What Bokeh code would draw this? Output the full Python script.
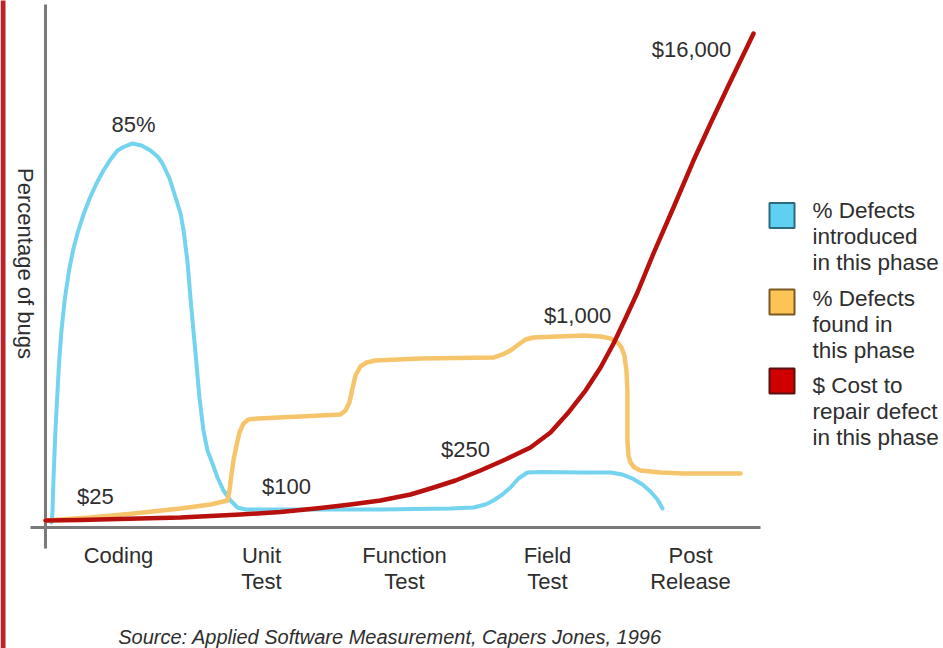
import math
from bokeh.plotting import figure
from bokeh.models import Range1d, Label
from bokeh.core.properties import value
from bokeh.embed import file_html
from bokeh.resources import INLINE

# ---------------- data (x: phase index, y: percentage of bugs) ----------------
phases = ["Coding", "Unit\nTest", "Function\nTest", "Field\nTest", "Post\nRelease"]
phase_pos = [0, 1, 2, 3, 4]

introduced_x = [-0.469, -0.462, -0.455, -0.441, -0.430, -0.416, -0.399, -0.374, -0.346,
                -0.315, -0.283, -0.245, -0.199, -0.154, -0.105, -0.056, -0.007, 0.042,
                0.098, 0.161, 0.224, 0.273, 0.308, 0.357, 0.399, 0.434, 0.455, 0.483,
                0.503, 0.524, 0.545, 0.566, 0.594, 0.622, 0.657, 0.692, 0.734, 0.783,
                0.832, 0.888, 1.273, 1.832, 2.322, 2.483, 2.566, 2.622, 2.685, 2.741,
                2.797, 2.860, 2.951, 3.252, 3.441, 3.524, 3.594, 3.664, 3.720, 3.769, 3.804]
introduced_y = [0.0, 2.02, 9.42, 20.63, 27.36, 35.66, 43.06, 50.46, 56.52,
                61.45, 65.26, 69.07, 72.89, 76.03, 78.94, 81.41, 83.43, 84.32,
                85.0, 84.55, 83.43, 82.08, 80.51, 77.15, 72.89, 69.30, 65.49, 58.31,
                50.46, 43.06, 35.66, 28.03, 20.63, 16.15, 13.23, 10.09, 7.18, 4.93,
                3.36, 2.92, 2.92, 2.92, 3.14, 3.36, 4.04, 4.93, 6.28, 7.85,
                9.87, 11.21, 11.33, 11.21, 11.21, 10.76, 9.87, 8.52, 6.95, 5.16, 3.14]

found_x = [-0.510, -0.196, 0.105, 0.434, 0.643, 0.762, 0.776, 0.790, 0.804, 0.825,
           0.846, 0.874, 0.909, 0.972, 1.273, 1.552, 1.587, 1.615, 1.636, 1.657,
           1.692, 1.734, 1.797, 2.112, 2.622, 2.685, 2.741, 2.797, 2.846, 2.902,
           3.252, 3.371, 3.441, 3.490, 3.517, 3.538, 3.552, 3.559, 3.559, 3.566,
           3.580, 3.608, 3.650, 3.790, 3.951, 4.350]
found_y = [0.45, 1.12, 2.02, 3.14, 4.04, 4.93, 7.18, 10.76, 13.90, 17.27,
           20.18, 22.20, 23.10, 23.32, 23.77, 24.22, 25.12, 26.91, 30.05, 32.97,
           34.99, 35.88, 36.33, 36.78, 37.00, 37.68, 38.57, 39.92, 41.04, 41.49,
           41.94, 41.71, 41.27, 40.37, 39.25, 37.45, 34.09, 29.60, 18.39, 15.03,
           13.46, 12.33, 11.66, 11.21, 10.99, 10.99]

cost_x = [-0.510, -0.266, 0.0, 0.434, 0.853, 1.133, 1.413, 1.622, 1.832, 2.042,
          2.182, 2.357, 2.531, 2.706, 2.881, 3.021, 3.140, 3.266, 3.371, 3.462,
          3.545, 3.629, 3.741, 3.881, 4.021, 4.140, 4.259, 4.350, 4.441]
cost_y = [0.45, 0.56, 0.78, 1.12, 1.79, 2.35, 3.25, 4.04, 4.93, 6.28,
          7.62, 9.42, 11.66, 14.13, 16.82, 20.18, 24.44, 29.60, 34.76, 40.14,
          45.75, 51.58, 60.33, 70.64, 81.18, 89.48, 97.56, 103.61, 109.67]

cost_labels = ["$25", "$100", "$250", "$1,000", "$16,000"]
cost_label_x = [-0.161, 1.175, 2.427, 3.210, 4.007]
cost_label_y = [5.8, 8.1, 16.4, 46.4, 106.1]

peak_label = "85%"
peak_label_x = 0.105
peak_label_y = 89.3

legend_labels = ["% Defects\nintroduced\nin this phase",
                 "% Defects\nfound in\nthis phase",
                 "$ Cost to\nrepair defect\nin this phase"]

source_text = "Source: Applied Software Measurement, Capers Jones, 1996"
y_title = "Percentage of bugs"

# ---------------- styles ----------------
BLUE = "#74d3ee"
YELLOW = "#f6c56b"
RED = "#b8100c"
legend_fill = ["#5fd0f2", "#fcc455", "#d00000"]
legend_line = ["#2f6a7a", "#7a5a22", "#5a1010"]
TXT = "#2e2e2e"
AXIS = "#7a7a7a"
FONT = "Liberation Sans"

W, H = 943, 648
X0, X1 = -0.82517, 5.76923
Y0, Y1 = -28.257, 117.066


def ux(px):  # page pixel x -> data x
    return X0 + px / W * (X1 - X0)


def vy(py):  # page pixel y -> data y
    return Y1 - py / H * (Y1 - Y0)


p = figure(width=W, height=H, output_backend="svg", toolbar_location=None,
           x_range=Range1d(X0, X1), y_range=Range1d(Y0, Y1),
           x_axis_type=None, y_axis_type=None, min_border=0,
           background_fill_color="white", border_fill_color="white")
p.grid.visible = False
p.outline_line_color = None

# page edge stripe
p.segment(x0=[ux(2.5)], y0=[vy(-2)], x1=[ux(2.5)], y1=[vy(650)], line_color="#bc2229", line_width=5)

# axis lines
p.segment(x0=[ux(45)], y0=[vy(4)], x1=[ux(45)], y1=[vy(548)], line_color=AXIS, line_width=3)
p.segment(x0=[ux(30)], y0=[vy(527)], x1=[ux(760)], y1=[vy(527)], line_color=AXIS, line_width=3)

# series
p.line(introduced_x, introduced_y, line_color=BLUE, line_width=4, line_join="round", line_cap="round")
p.line(found_x, found_y, line_color=YELLOW, line_width=4.5, line_join="round", line_cap="round")
p.line(cost_x, cost_y, line_color=RED, line_width=4.5, line_join="round", line_cap="round")

# value labels
p.text(x=cost_label_x, y=cost_label_y, text=cost_labels, text_font=value(FONT),
       text_font_size="22px", text_color=TXT, text_align="center", text_baseline="middle")
p.text(x=[peak_label_x], y=[peak_label_y], text=[peak_label], text_font=value(FONT),
       text_font_size="22px", text_color=TXT, text_align="center", text_baseline="middle")

# phase labels (categories)
lx, ly, lt = [], [], []
for pos, name in zip(phase_pos, phases):
    for i, line in enumerate(name.split("\n")):
        lx.append(pos)
        ly.append(vy(555 + 26 * i))
        lt.append(line)
p.text(x=lx, y=ly, text=lt, text_font=value(FONT), text_font_size="22px",
       text_color=TXT, text_align="center", text_baseline="middle")

# legend
sq_y = [215, 301.5, 380.5]
first_line_y = [210, 298, 385]
p.scatter(x=[ux(781.5)] * 3, y=[vy(v) for v in sq_y], marker="square", size=25,
          fill_color=legend_fill, line_color=legend_line, line_width=2)
gx, gy, gt = [], [], []
for lab, y0 in zip(legend_labels, first_line_y):
    for i, line in enumerate(lab.split("\n")):
        gx.append(ux(812))
        gy.append(vy(y0 + 26 * i))
        gt.append(line)
p.text(x=gx, y=gy, text=gt, text_font=value(FONT), text_font_size="22.5px",
       text_color=TXT, text_align="left", text_baseline="middle")

# y title
p.add_layout(Label(x=25, y=H - 263, x_units="screen", y_units="screen",
                   text=y_title, angle=-math.pi / 2, text_font=FONT,
                   text_font_size="22px", text_color=TXT,
                   text_align="center", text_baseline="middle"))

# source
p.add_layout(Label(x=389.5, y=H - 636, x_units="screen", y_units="screen",
                   text=source_text, text_font=FONT, text_font_style="italic",
                   text_font_size="20px", text_color=TXT,
                   text_align="center", text_baseline="middle"))

open("out.html", "w").write(file_html(p, INLINE))
